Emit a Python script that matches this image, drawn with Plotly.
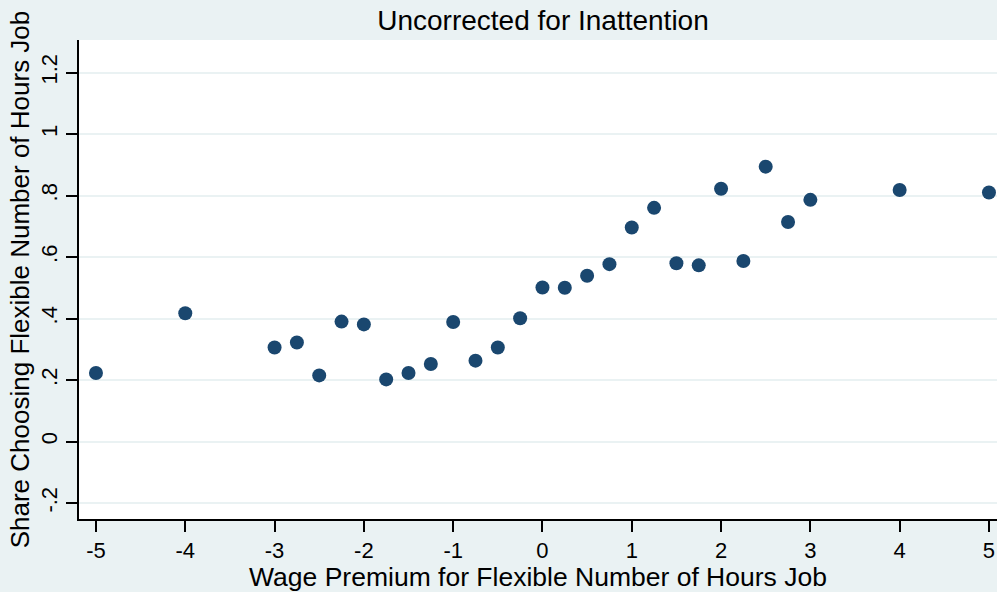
import plotly.graph_objects as go

# wage premium (x) and share choosing flexible-hours job (y)
premium = [-5, -4, -3, -2.75, -2.5, -2.25, -2, -1.75, -1.5, -1.25, -1, -0.75, -0.5,
           -0.25, 0, 0.25, 0.5, 0.75, 1, 1.25, 1.5, 1.75, 2, 2.25, 2.5, 2.75, 3, 4, 5]
share = [0.223, 0.417, 0.306, 0.322, 0.215, 0.390, 0.381, 0.202, 0.223, 0.252, 0.389,
         0.263, 0.306, 0.401, 0.501, 0.500, 0.539, 0.577, 0.696, 0.760, 0.580, 0.573,
         0.822, 0.587, 0.894, 0.714, 0.786, 0.818, 0.810]

x_ticks = [-5, -4, -3, -2, -1, 0, 1, 2, 3, 4, 5]
x_labels = ["-5", "-4", "-3", "-2", "-1", "0", "1", "2", "3", "4", "5"]
y_ticks = [-0.2, 0, 0.2, 0.4, 0.6, 0.8, 1, 1.2]
y_labels = ["-.2", "0", ".2", ".4", ".6", ".8", "1", "1.2"]

BG = "#eaf2f3"
NAVY = "#1a476f"
FONT = "Liberation Sans, Arial, Helvetica, sans-serif"

fig = go.Figure(
    go.Scatter(
        x=premium,
        y=share,
        mode="markers",
        marker={"size": 14, "color": NAVY, "line": {"width": 0}},
        hoverinfo="x+y",
    )
)

fig.update_layout(
    width=997,
    height=592,
    paper_bgcolor=BG,
    plot_bgcolor="white",
    margin={"l": 79, "r": 0, "t": 40, "b": 73},
    font={"family": FONT, "size": 22, "color": "black"},
    showlegend=False,
    title={
        "text": "Uncorrected for Inattention",
        "x": 543 / 997,
        "xanchor": "center",
        "y": 1 - 20 / 592,
        "yanchor": "middle",
        "font": {"family": FONT, "size": 28, "color": "black"},
    },
)

fig.update_xaxes(
    range=[-5.19, 5.09],
    tickvals=x_ticks,
    ticktext=x_labels,
    tickfont={"family": FONT, "size": 22, "color": "black"},
    ticks="outside",
    ticklen=11,
    tickwidth=1.5,
    tickcolor="black",
    showline=True,
    linecolor="black",
    linewidth=1.5,
    showgrid=False,
    zeroline=False,
    title={
        "text": "Wage Premium for Flexible Number of Hours Job",
        "standoff": 0,
        "font": {"family": FONT, "size": 26.5, "color": "black"},
    },
)

fig.update_yaxes(
    range=[-0.252, 1.306],
    tickvals=y_ticks,
    ticktext=y_labels,
    tickfont={"family": FONT, "size": 22, "color": "black"},
    tickangle=-90,
    ticks="outside",
    ticklen=11,
    tickwidth=1.5,
    tickcolor="black",
    showline=True,
    linecolor="black",
    linewidth=1.5,
    showgrid=True,
    gridcolor=BG,
    gridwidth=2,
    zeroline=False,
    title={
        "text": "Share Choosing Flexible Number of Hours Job",
        "standoff": 0,
        "font": {"family": FONT, "size": 26, "color": "black"},
    },
)

fig.write_html(
    "out.html",
    config={"displayModeBar": False},
    post_script="document.body.style.margin='0';document.body.style.overflow='hidden';",
)
